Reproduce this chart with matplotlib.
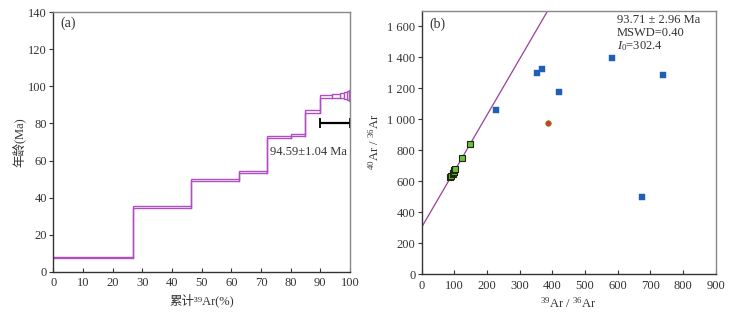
import matplotlib
matplotlib.use("Agg")
import matplotlib.pyplot as plt
from matplotlib.ticker import FuncFormatter
import numpy as np

plt.rcParams['font.family'] = ['Liberation Serif', 'Noto Sans CJK SC', 'DejaVu Sans']
plt.rcParams['mathtext.fontset'] = 'custom'
plt.rcParams['mathtext.rm'] = 'Liberation Serif'
plt.rcParams['mathtext.it'] = 'Liberation Serif:italic'

# ---- (a) age spectrum: step edges (cumulative 39Ar %), upper / lower ages ----
step_x = [0, 26.7, 46.5, 62.5, 72.0, 80.0, 85.0, 89.8, 94.0, 96.5, 98.0, 99.0, 99.5, 100]
step_hi = [8.0, 35.2, 49.8, 54.6, 73.0, 74.2, 87.0, 95.6, 96.0, 96.2, 97.0, 97.5, 98.0]
step_lo = [7.2, 34.4, 49.0, 53.5, 72.0, 73.0, 85.5, 94.0, 94.0, 93.5, 93.0, 92.5, 92.0]
plateau_x = [89.8, 100]
plateau_y = 80
plateau_label = "94.59±1.04 Ma"

# ---- (b) isochron ----
green_x = [88, 90, 95, 97, 100, 100, 102, 123, 148]
green_y = [625, 635, 645, 655, 660, 670, 675, 748, 840]
blue_x = [228, 352, 368, 421, 582, 740, 675]
blue_y = [1060, 1295, 1325, 1172, 1393, 1283, 497]
red_x = [387]
red_y = [975]
intercept = 302.4
slope = 3.62
iso_text = ["93.71 ± 2.96 Ma", "MSWD=0.40", r"$I_0$=302.4"]

fig = plt.figure(figsize=(7.31, 3.13), dpi=100)
ax1 = fig.add_axes([0.0729, 0.132, 0.4059, 0.8287])
ax2 = fig.add_axes([0.5769, 0.1246, 0.4019, 0.8412])

purple = '#b04fc0'
txtc = '#333333'
fs = 9

def style(ax):
    for s in ['left', 'bottom']:
        ax.spines[s].set_color('#333333')
        ax.spines[s].set_linewidth(1.0)
    for s in ['top', 'right']:
        ax.spines[s].set_color('#888888')
        ax.spines[s].set_linewidth(1.0)
    ax.tick_params(axis='y', direction='out', length=3, width=0.8, colors='#333333', labelsize=fs, pad=1.5)
    ax.tick_params(axis='x', direction='in', length=3, width=0.8, colors='#333333', labelsize=fs, pad=4)
    for lab in ax.get_xticklabels() + ax.get_yticklabels():
        lab.set_color(txtc)

# (a)
xs = np.array(step_x)
ax1.stairs(step_hi, xs, color=purple, lw=1.0, baseline=None)
ax1.stairs(step_lo, xs, color=purple, lw=1.0, baseline=None)
for i in range(len(step_hi)):
    ax1.plot([xs[i+1], xs[i+1]], [step_lo[i], step_hi[i]], color=purple, lw=1.0)
ax1.errorbar([(plateau_x[0] + plateau_x[1]) / 2], [plateau_y],
             xerr=[(plateau_x[1] - plateau_x[0]) / 2], fmt='none',
             ecolor='black', elinewidth=1.6, capsize=3.5, capthick=1.3)
ax1.text(73, 64.5, plateau_label, fontsize=fs, color=txtc, ha='left', va='center')
ax1.text(2.5, 134, "(a)", fontsize=fs + 1, color=txtc, ha='left', va='center')
ax1.set_xlim(0, 100)
ax1.set_ylim(0, 140)
ax1.set_xticks(range(0, 101, 10))
ax1.set_yticks(range(0, 141, 20))
ax1.set_xlabel("累计³⁹Ar(%)", fontsize=fs, color=txtc, labelpad=3)
ax1.set_ylabel("年龄(Ma)", fontsize=fs, color=txtc, labelpad=2)
style(ax1)

# (b)
lx = np.array([0, 900])
ax2.plot(lx, intercept + slope * lx, color='#9a3f9a', lw=0.9, zorder=1)
ax2.scatter(green_x, green_y, marker='s', s=20, c='#6cbf3c', edgecolors='#1a2a10', linewidths=0.8, zorder=3)
ax2.scatter(blue_x, blue_y, marker='s', s=24, c='#1f5fb8', edgecolors='#1f5fb8', linewidths=0.3, zorder=3)
ax2.scatter(red_x, red_y, marker='o', s=16, c='#e8301c', edgecolors='#5a9a3a', linewidths=0.6, zorder=3)
for i, t in enumerate(iso_text):
    ax2.text(598, 1640 - i * 84, t, fontsize=fs, color=txtc, ha='left', va='center')
ax2.text(22, 1610, "(b)", fontsize=fs + 1, color=txtc, ha='left', va='center')
ax2.set_xlim(0, 900)
ax2.set_ylim(0, 1700)
ax2.set_xticks(range(0, 901, 100))
ax2.set_yticks(range(0, 1601, 200))
ax2.yaxis.set_major_formatter(FuncFormatter(lambda v, p: f"{int(v):,}".replace(",", " ")))
ax2.set_xlabel(r"$^{39}$Ar / $^{36}$Ar", fontsize=fs, color=txtc, labelpad=3)
ax2.set_ylabel(r"$^{40}$Ar / $^{36}$Ar", fontsize=fs, color=txtc, labelpad=4)
style(ax2)

fig.savefig("out.png", dpi=100)
